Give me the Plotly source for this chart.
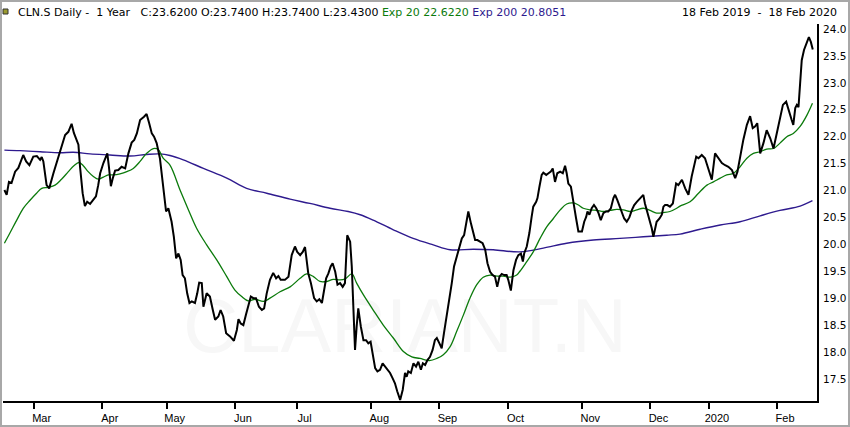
import plotly.graph_objects as go

# trading-day index (0 = 18 Feb 2019) and values
close_day = [0, 0.7, 1.4, 2.2, 3.3, 4.3, 5.8, 6.7, 7.7, 8.9, 10.0, 11.0, 11.5, 12.0, 13.0, 13.8,
             15.1, 16.6, 17.7, 18.7, 19.7, 20.7, 21.4, 22.3, 22.8, 23.3, 24.1, 24.8, 25.5, 26.4,
             27.4, 28.2, 28.9, 29.5, 30.5, 31.3, 31.7, 32.2, 32.8, 33.4, 34.1, 35.1, 36.1, 37.2,
             38.2, 39.2, 40.0, 40.8, 41.8, 43.0, 43.8, 44.6, 45.4, 46.1, 46.9, 47.9, 49.0, 49.8,
             50.5, 51.5, 52.2, 52.9, 53.6, 54.3, 54.9, 55.6, 56.3, 57.0, 57.7, 58.7, 59.4, 60.0,
             60.8, 61.3, 62.3, 63.3, 64.2, 64.9, 65.9, 66.6, 67.4, 68.3, 69.5, 70.7, 71.6, 72.1,
             72.8, 73.6, 74.4, 75.1, 75.9, 76.7, 77.5, 78.4, 79.3, 80.0, 80.8, 81.8, 82.8, 83.7,
             84.4, 85.1, 86.4, 87.5, 88.5, 89.5, 90.2, 91.1, 91.9, 92.6, 93.1, 93.6, 94.4, 95.4,
             96.2, 97.0, 97.8, 98.3, 99.1, 99.8, 100.5, 101.1, 101.9, 102.6, 103.4, 104.2, 104.9,
             105.6, 106.5, 107.0, 107.5, 108.0, 108.5, 109.0, 109.8, 110.6, 111.4, 112.1, 112.8,
             113.5, 114.2, 114.9, 115.7, 116.5, 117.3, 118.0, 118.8, 119.6, 120.3, 121.0, 121.9,
             122.7, 123.4, 123.9, 124.4, 125.2, 126.0, 126.8, 127.5, 128.3, 128.9, 129.6, 130.3,
             131.1, 131.9, 132.6, 133.2, 134.0, 134.7, 135.4, 136.3, 137.1, 137.8, 138.5, 139.3,
             140.1, 140.9, 141.6, 142.2, 142.9, 143.7, 144.3, 145.0, 145.7, 146.5, 147.3, 148.1,
             148.8, 149.6, 150.4, 151.1, 151.8, 152.5, 153.2, 153.9, 154.7, 155.2, 156.0, 156.8,
             157.6, 158.3, 159.1, 159.7, 160.1, 160.9, 161.7, 162.4, 162.9, 163.8, 164.2, 164.8,
             165.5, 166.0, 166.9, 167.6, 168.3, 168.9, 169.6, 170.3, 171.2, 172.0, 172.7, 173.2,
             173.7, 174.5, 175.1, 175.5, 176.1, 176.8, 177.9, 178.6, 179.2, 179.6, 180.2, 180.9,
             181.6, 182.3, 183.0, 183.7, 184.5, 185.3, 186.0, 186.8, 187.6, 188.1, 188.8, 189.4,
             190.2, 190.9, 191.7, 192.5, 193.3, 194.0, 194.8, 195.6, 196.3, 196.8, 197.3, 198.1,
             198.9, 199.4, 199.9, 200.4, 200.9, 201.8, 202.5, 203.0, 203.5, 204.2, 205.0, 205.9,
             206.3, 206.9, 207.6, 208.7, 209.7, 210.7, 211.7, 213.1, 213.8, 214.8, 215.8, 216.9,
             217.9, 218.9, 219.9, 221.0, 222.0, 223.0, 224.1, 225.1, 225.8, 226.6, 227.6, 228.7,
             229.7, 230.5, 231.2, 231.9, 232.8, 233.8, 234.8, 235.9, 236.9, 237.9, 238.9, 239.8,
             240.8, 241.8, 242.5, 243.0, 243.6, 244.1, 244.6, 245.1, 245.6, 246.3, 247.1, 247.8,
             248.4, 249.0]
close = [21.01, 20.92, 21.16, 21.14, 21.35, 21.42, 21.66, 21.54, 21.47, 21.63, 21.64, 21.57, 21.62,
         21.54, 21.10, 21.04, 21.32, 21.63, 21.81, 22.03, 22.09, 22.24, 22.07, 21.91, 21.85, 21.44,
         20.95, 20.71, 20.79, 20.75, 20.82, 20.89, 21.10, 21.32, 21.51, 21.66, 21.69, 21.44, 21.08,
         21.23, 21.37, 21.38, 21.44, 21.41, 21.69, 21.89, 21.94, 22.06, 22.31, 22.37, 22.42, 22.25,
         22.06, 22.00, 21.88, 21.60, 20.95, 20.61, 20.67, 20.42, 20.14, 19.74, 19.83, 19.71, 19.43,
         19.37, 19.09, 18.91, 18.94, 18.91, 19.09, 19.29, 19.28, 18.84, 19.09, 19.03, 18.78, 18.60,
         18.66, 18.78, 18.66, 18.35, 18.29, 18.21, 18.41, 18.61, 18.53, 18.50, 18.69, 18.84, 19.03,
         19.00, 19.00, 18.84, 18.78, 18.81, 19.09, 19.34, 19.47, 19.37, 19.41, 19.34, 19.34, 19.40,
         19.80, 19.96, 19.86, 19.80, 19.86, 19.95, 19.71, 19.46, 19.28, 19.00, 18.94, 18.98, 18.91,
         19.09, 19.37, 19.46, 19.59, 19.65, 19.49, 19.25, 19.28, 19.21, 19.28, 20.17, 20.05, 19.59,
         18.84, 18.04, 18.47, 18.81, 18.47, 18.22, 18.22, 18.16, 18.19, 17.91, 17.70, 17.64, 17.67,
         17.79, 17.73, 17.67, 17.61, 17.51, 17.42, 17.27, 17.11, 17.30, 17.61, 17.54, 17.64, 17.61,
         17.79, 17.73, 17.82, 17.67, 17.79, 17.76, 17.85, 17.91, 18.04, 18.22, 18.26, 18.16, 18.07,
         18.35, 18.69, 18.97, 19.28, 19.59, 19.77, 19.93, 20.11, 20.17, 20.39, 20.61, 20.39, 20.24,
         20.08, 20.08, 20.05, 20.02, 19.90, 19.65, 19.49, 19.43, 19.40, 19.21, 19.40, 19.45, 19.43,
         19.43, 19.34, 19.14, 19.52, 19.71, 19.80, 19.83, 19.68, 19.83, 19.96, 20.21, 20.51, 20.70,
         20.79, 20.86, 21.07, 21.29, 21.33, 21.29, 21.32, 21.35, 21.41, 21.16, 21.32, 21.35, 21.32,
         21.46, 21.32, 21.13, 21.07, 20.89, 20.70, 20.48, 20.24, 20.24, 20.42, 20.51, 20.61, 20.55,
         20.67, 20.73, 20.67, 20.58, 20.45, 20.58, 20.61, 20.61, 20.67, 20.86, 20.92, 20.82, 20.73,
         20.61, 20.48, 20.42, 20.50, 20.64, 20.73, 20.79, 20.84, 20.89, 20.92, 20.76, 20.58, 20.42,
         20.30, 20.14, 20.30, 20.42, 20.48, 20.55, 20.70, 20.73, 20.73, 20.70, 20.76, 20.89, 21.13,
         21.10, 21.20, 21.04, 20.92, 21.26, 21.63, 21.60, 21.66, 21.60, 21.38, 21.20, 21.69, 21.60,
         21.51, 21.47, 21.44, 21.38, 21.23, 21.35, 21.63, 21.94, 22.22, 22.38, 22.16, 22.19, 22.25,
         21.69, 21.88, 22.12, 21.97, 21.78, 22.06, 22.37, 22.59, 22.65, 22.43, 22.31, 22.22, 22.53,
         22.59, 22.55, 22.99, 23.42, 23.61, 23.73, 23.85, 23.76, 23.62]

ema20_day = [0, 1.7, 3.8, 5.8, 7.9, 9.9, 11.5, 13.5, 15.6, 17.6, 19.7, 21.4, 23.0, 24.3, 25.8,
             27.4, 28.9, 30.5, 32.0, 33.6, 35.6, 37.7, 39.7, 41.8, 43.8, 45.9, 47.4, 48.9, 51.0,
             54.1, 56.7, 59.2, 62.3, 65.4, 68.5, 71.0, 73.1, 75.1, 77.2, 79.8, 81.8, 84.9, 88.0,
             91.1, 93.1, 95.2, 97.2, 99.3, 101.3, 103.4, 105.0, 107.0, 108.5, 110.6, 113.6, 116.7,
             119.8, 122.9, 125.5, 128.0, 130.9, 133.2, 135.2, 137.3, 139.3, 141.4, 143.4, 145.5,
             147.5, 149.6, 151.7, 153.7, 155.8, 157.8, 158.8, 160.9, 162.9, 165.0, 167.1, 169.1,
             171.2, 173.2, 175.3, 176.8, 178.3, 180.4, 182.5, 184.5, 186.6, 188.6, 190.7, 192.7,
             194.8, 196.8, 198.9, 200.9, 203.0, 205.0, 207.1, 208.1, 211.2, 213.8, 216.4, 218.4,
             220.5, 222.5, 224.6, 226.6, 228.7, 230.7, 232.8, 234.8, 236.9, 238.9, 241.0, 243.0,
             245.1, 247.2, 248.9]
ema20 = [20.02, 20.21, 20.45, 20.67, 20.82, 20.95, 21.04, 21.06, 21.10, 21.21, 21.35, 21.46, 21.52,
         21.46, 21.35, 21.26, 21.21, 21.25, 21.29, 21.29, 21.31, 21.35, 21.41, 21.54, 21.69, 21.78,
         21.76, 21.60, 21.47, 21.01, 20.64, 20.30, 19.99, 19.71, 19.40, 19.15, 19.03, 18.95, 18.98,
         18.94, 19.00, 19.12, 19.21, 19.37, 19.45, 19.40, 19.31, 19.31, 19.35, 19.34, 19.36, 19.45,
         19.28, 19.06, 18.78, 18.50, 18.26, 18.01, 17.91, 17.88, 17.84, 17.88, 17.95, 18.10, 18.38,
         18.69, 19.00, 19.25, 19.39, 19.43, 19.41, 19.41, 19.39, 19.43, 19.50, 19.68, 19.86, 20.11,
         20.33, 20.48, 20.64, 20.75, 20.77, 20.73, 20.67, 20.64, 20.63, 20.61, 20.63, 20.65, 20.64,
         20.61, 20.64, 20.67, 20.63, 20.58, 20.59, 20.61, 20.67, 20.71, 20.79, 20.95, 21.10, 21.16,
         21.23, 21.29, 21.32, 21.44, 21.60, 21.69, 21.72, 21.77, 21.78, 21.88, 22.00, 22.06, 22.19,
         22.40, 22.62]

ema200_day = [0, 4.8, 11.0, 17.1, 21.2, 26.4, 32.5, 38.7, 43.8, 47.9, 51.0, 55.1, 61.3, 68.5,
              74.6, 80.8, 88.0, 94.1, 100.3, 105.9, 109.6, 113.6, 119.8, 125.9, 132.1, 137.3,
              144.5, 150.6, 158.8, 166.0, 173.2, 181.4, 189.6, 196.8, 204.0, 208.1, 214.3, 220.5,
              226.6, 232.8, 238.9, 245.1, 248.9]
ema200 = [21.75, 21.74, 21.72, 21.70, 21.71, 21.68, 21.66, 21.64, 21.67, 21.68, 21.65, 21.57, 21.41,
          21.23, 21.04, 20.95, 20.84, 20.76, 20.67, 20.61, 20.55, 20.45, 20.27, 20.11, 19.99, 19.90,
          19.91, 19.90, 19.86, 19.93, 20.02, 20.08, 20.11, 20.14, 20.17, 20.19, 20.28, 20.36, 20.42,
          20.53, 20.63, 20.71, 20.81]

assert len(close_day) == len(close)
assert len(ema20_day) == len(ema20)
assert len(ema200_day) == len(ema200)

month_days = [9, 30, 50, 71, 90, 113, 134, 155, 178, 199, 217, 238]
month_labels = ["Mar", "Apr", "May", "Jun", "Jul", "Aug", "Sep", "Oct", "Nov", "Dec", "2020", "Feb"]
price_ticks = [17.5, 18.0, 18.5, 19.0, 19.5, 20.0, 20.5, 21.0, 21.5, 22.0, 22.5, 23.0, 23.5, 24.0]

GREEN = "#0b7a0b"
BLUE = "#2e1a8e"

W, H, L, R, T, B = 850, 427, 3, 33, 24, 26
pw, ph = W - L - R, H - T - B

fig = go.Figure()
# faint watermark, drawn first so it sits behind the lines
fig.add_trace(go.Scatter(x=[123.4], y=[18.36], mode="text", text=["CLARIANT.N"], hoverinfo="skip",
                         textfont=dict(family="Liberation Sans", size=76, color="#f7f7f7")))
fig.add_trace(go.Scatter(x=ema200_day, y=ema200, mode="lines", line=dict(color=BLUE, width=1.4, shape="spline")))
fig.add_trace(go.Scatter(x=ema20_day, y=ema20, mode="lines", line=dict(color=GREEN, width=1.3, shape="spline")))
fig.add_trace(go.Scatter(x=close_day, y=close, mode="lines", line=dict(color="black", width=2)))

# header line
fig.add_annotation(
    text="CLN.S Daily -  1 Year   C:23.6200 O:23.7400 H:23.7400 L:23.4300 "
         f"<span style='color:{GREEN}'>Exp 20 22.6220</span> "
         f"<span style='color:{BLUE}'>Exp 200 20.8051</span>",
    x=(16 - L) / pw, y=1 + (T - 12) / ph, xref="paper", yref="paper", showarrow=False,
    xanchor="left", yanchor="middle",
    font=dict(family="DejaVu Sans", size=11, color="black"))
fig.add_annotation(text="18 Feb 2019  -  18 Feb 2020", x=(839 - L) / pw, y=1 + (T - 12) / ph,
                   xref="paper", yref="paper", showarrow=False, xanchor="right", yanchor="middle",
                   font=dict(family="DejaVu Sans", size=11, color="black"))

# header icon and outer frame
fig.add_shape(type="rect", xref="paper", yref="paper",
              x0=(3 - L) / pw, x1=(8 - L) / pw, y0=1 + (T - 14) / ph, y1=1 + (T - 9) / ph,
              fillcolor="#9a9a30", line=dict(color="#333", width=1))
fig.add_shape(type="rect", xref="paper", yref="paper",
              x0=(1 - L) / pw, x1=(849 - L) / pw, y0=-(B - 1) / ph, y1=1 + (T - 1) / ph,
              line=dict(color="#a8a8a8", width=2))

fig.update_layout(
    width=W, height=H, margin=dict(l=L, r=R, t=T, b=B),
    paper_bgcolor="white", plot_bgcolor="white", showlegend=False,
    xaxis=dict(range=[-0.43, 250.3], tickvals=month_days, ticktext=month_labels,
               ticks="outside", ticklen=6, tickwidth=2, tickcolor="black",
               ticklabelshift=8, showgrid=False, zeroline=False,
               showline=True, linecolor="black", linewidth=2,
               tickfont=dict(family="Liberation Sans Narrow, Liberation Sans", size=11, color="black")),
    yaxis=dict(side="right", range=[17.09, 24.093], tickvals=price_ticks,
               ticktext=[f"{v:.1f}" for v in price_ticks], ticks="", showgrid=False, zeroline=False,
               showline=True, linecolor="black", linewidth=2, ticklabelstandoff=2,
               tickfont=dict(family="DejaVu Sans", size=10.5, color="black")),
)

fig.write_html("out.html", config={"displayModeBar": False},
               post_script="document.body.style.margin='0';")
